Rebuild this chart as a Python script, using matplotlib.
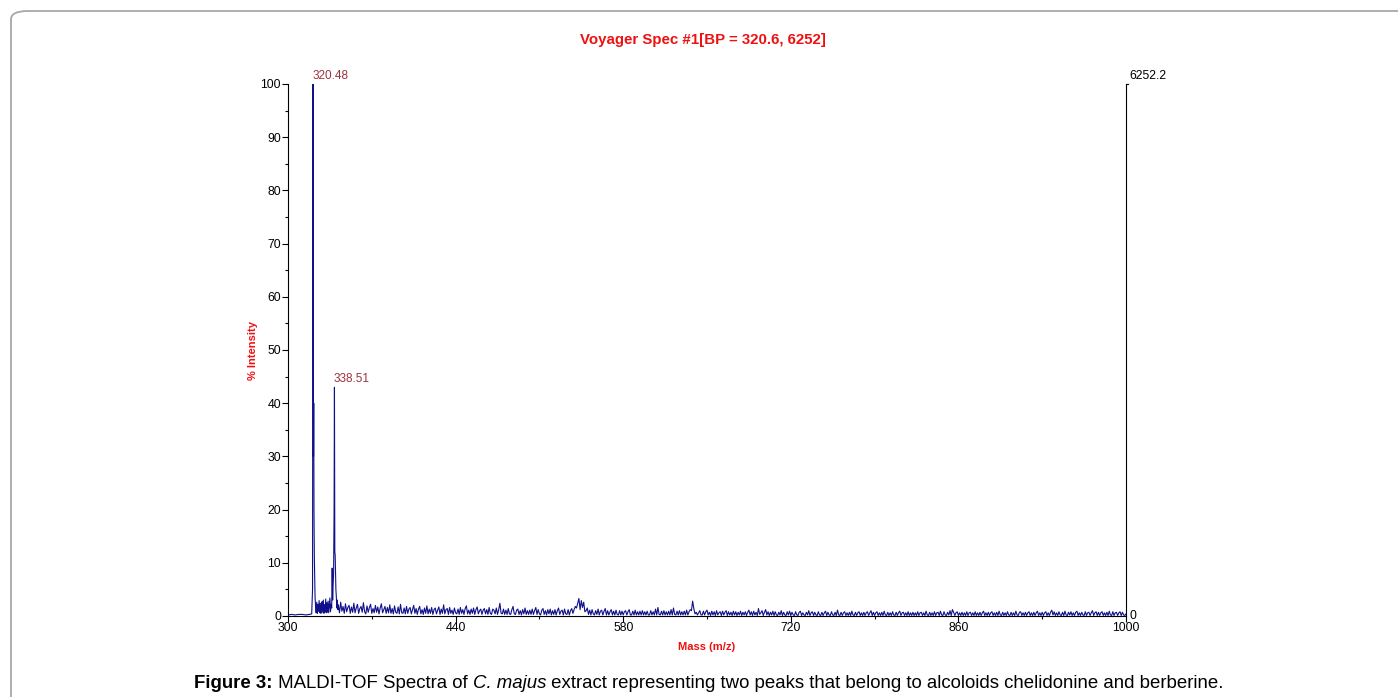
import matplotlib
matplotlib.use("Agg")
import matplotlib.pyplot as plt
from matplotlib.patches import FancyBboxPatch
import numpy as np

plt.rcParams['font.family'] = ['Liberation Sans', 'DejaVu Sans']

# spectrum around the two main peaks (m/z, % intensity)
peak_mass = [300, 303, 306, 309, 312, 315, 318, 319.8, 320.5, 320.9, 321.1, 321.3,
             321.5, 321.7, 322.0, 322.3, 322.6, 323.0, 323.5, 324.0, 324.5, 325.0,
             325.5, 326.0, 326.5, 327.0, 327.5, 328.0, 328.5, 329.0, 329.5, 330.0,
             330.5, 331.0, 331.5, 332.0, 332.5, 333.0, 333.5, 334.0, 334.5, 335.0,
             335.5, 336.0, 336.5, 336.9, 337.3, 337.7, 338.1, 338.5, 338.8, 339.1,
             339.4, 339.7, 340.0, 340.4, 340.8, 341.2, 341.6]
peak_int = [0.2, 0.3, 0.2, 0.3, 0.3, 0.2, 0.3, 0.4, 5.0, 100.0, 61.0, 30.0,
            40.0, 20.0, 11.0, 7.0, 3.5, 2.0, 0.6, 2.6, 0.5, 2.2, 0.9, 2.9, 0.6, 2.4,
            0.5, 1.9, 2.7, 0.7, 3.0, 0.5, 2.1, 0.8, 3.2, 0.6, 2.5, 0.7, 2.8, 0.6,
            2.0, 3.4, 0.8, 2.2, 1.5, 9.0, 3.0, 6.0, 8.0, 20.0, 43.0, 12.0,
            11.5, 8.0, 5.0, 3.5, 1.5, 3.0, 1.2]

# baseline noise, one value per m/z unit from 342 upwards
noise_start = 342
noise = [
    2.1, 0.6, 2.6, 0.9, 1.8, 0.5, 2.3, 0.8, 1.6, 2.0, 0.5, 1.7, 0.7, 2.4, 0.6, 1.5, 2.2, 0.5, 1.4, 1.8,
    0.7, 2.5, 0.8, 0.4, 1.9, 0.7, 1.6, 2.2, 0.5, 1.4, 0.6, 2.0, 0.7, 1.7, 0.4, 1.5, 2.3, 0.6, 1.2, 1.8,
    0.5, 1.6, 0.6, 2.1, 0.5, 1.4, 0.4, 1.9, 0.7, 0.5, 1.7, 0.4, 2.2, 0.6, 0.5, 1.5, 0.4, 1.8, 0.5, 1.3,
    1.6, 0.4, 1.2, 2.0, 0.5, 1.4, 0.3, 1.3, 1.8, 0.4, 1.2, 0.3, 1.5, 0.5, 1.9, 0.4, 1.3, 0.5, 1.6, 0.3,
    1.2, 1.5, 0.4, 1.1, 1.7, 0.3, 1.3, 0.5, 2.1, 0.4, 1.2, 1.4, 0.3, 1.6, 0.5, 1.1, 0.3, 1.5, 0.6, 0.4,
    1.3, 0.3, 1.6, 0.5, 1.2, 0.3, 1.4, 1.9, 0.4, 1.1, 0.3, 1.3, 0.5, 1.5, 0.3, 1.2, 1.7, 0.4, 1.0, 1.3,
    0.3, 1.1, 1.4, 0.4, 1.2, 0.3, 1.6, 0.5, 0.3, 1.3, 1.1, 0.4, 1.5, 0.3, 1.2, 2.4, 0.5, 0.4, 1.3, 0.3,
    1.1, 0.3, 1.4, 0.4, 0.3, 1.2, 1.8, 0.4, 0.3, 1.1, 1.3, 0.3, 1.0, 0.2, 1.2, 0.4, 1.5, 0.3, 1.0, 0.3,
    1.1, 0.3, 1.3, 0.3, 1.0, 1.6, 0.3, 1.2, 0.4, 0.2, 1.1, 1.4, 0.3, 1.0, 0.2, 1.2, 0.4, 1.3, 0.2, 1.0,
    0.3, 1.2, 0.2, 1.0, 1.5, 0.3, 0.9, 1.1, 0.2, 1.3, 0.4, 0.3, 1.2, 0.2, 1.0, 1.4, 0.5, 1.2, 1.8, 1.5,
    2.4, 3.3, 1.2, 2.9, 1.6, 2.6, 0.8, 1.0, 1.5, 0.3, 1.1, 0.2, 1.2, 0.4, 0.2, 1.0, 0.3, 1.3, 0.2, 0.9,
    1.1, 0.2, 0.9, 1.4, 0.2, 1.0, 0.2, 0.8, 1.2, 0.2, 0.9, 0.2, 1.1, 0.3, 0.2, 1.0, 0.2, 0.9, 0.2, 0.8,
    1.0, 0.2, 0.8, 1.2, 0.2, 0.2, 0.9, 0.2, 1.1, 0.2, 0.8, 0.2, 0.9, 0.2, 1.0, 0.2, 0.8, 0.2, 0.9, 0.2,
    0.2, 1.0, 0.2, 0.8, 0.2, 1.3, 0.2, 1.6, 0.3, 0.2, 0.9, 0.2, 1.0, 0.2, 0.8, 0.2, 0.9, 0.2, 1.2, 0.2,
    1.5, 0.3, 0.2, 0.9, 0.2, 1.0, 0.2, 0.8, 0.2, 0.9, 0.2, 1.1, 0.2, 0.8, 1.2, 1.0, 2.8, 1.4, 0.4, 0.7,
    0.2, 0.6, 1.0, 0.2, 0.2, 0.9, 0.2, 0.8, 1.1, 0.2, 0.7, 0.1, 0.9, 0.2, 0.8, 0.1, 1.0, 0.2, 0.6, 0.8,
    0.1, 0.9, 0.2, 0.7, 1.0, 0.1, 0.8, 0.2, 0.7, 0.1, 0.9, 0.2, 0.8, 0.1, 0.7, 0.2, 0.9, 0.1, 0.7, 0.2,
    0.8, 0.1, 0.7, 1.1, 0.2, 0.8, 0.1, 0.9, 0.2, 0.7, 0.1, 1.4, 0.3, 0.6, 1.0, 0.1, 0.7, 1.2, 0.2, 0.8,
    0.1, 0.7, 0.2, 0.9, 0.1, 0.8, 0.2, 0.1, 0.7, 0.2, 1.0, 0.1, 0.7, 0.2, 0.1, 0.8, 0.2, 0.9, 0.1, 0.7,
    0.2, 0.1, 0.8, 0.2, 0.1, 0.7, 0.9, 0.1, 0.6, 0.2, 0.1, 0.7, 0.2, 1.0, 0.1, 0.6, 0.8, 0.1, 0.7, 0.2,
    0.1, 0.8, 0.2, 0.1, 0.7, 0.1, 0.6, 0.9, 0.1, 0.7, 0.2, 0.1, 0.8, 0.2, 0.1, 0.7, 0.1, 1.1, 0.2, 0.1,
    0.7, 0.1, 0.6, 0.8, 0.1, 0.6, 0.1, 0.7, 0.1, 0.9, 0.2, 0.1, 0.7, 0.1, 0.6, 0.8, 0.1, 0.6, 0.1, 0.7,
    0.1, 0.6, 0.8, 0.1, 0.6, 1.0, 0.1, 0.7, 0.1, 0.6, 0.8, 0.1, 0.6, 0.1, 0.7, 0.1, 0.9, 0.2, 0.1, 0.7,
    0.1, 0.6, 0.1, 0.8, 0.2, 0.1, 0.7, 0.1, 0.6, 0.9, 0.1, 0.6, 0.7, 0.1, 0.6, 0.1, 0.8, 0.1, 0.6, 0.1,
    0.7, 0.1, 0.6, 0.1, 0.8, 0.1, 0.6, 0.7, 0.1, 0.6, 0.1, 0.9, 0.2, 0.1, 0.7, 0.1, 0.6, 0.1, 0.8, 0.1,
    0.6, 0.7, 0.1, 0.9, 0.2, 0.1, 0.8, 0.2, 0.1, 0.7, 0.2, 1.0, 0.1, 1.2, 0.7, 0.1, 0.6, 0.8, 0.1, 0.6,
    0.1, 0.7, 0.1, 0.6, 0.1, 0.8, 0.1, 0.6, 0.7, 0.1, 0.6, 0.1, 0.8, 0.1, 0.6, 0.1, 0.7, 0.1, 0.6, 0.9,
    0.1, 0.6, 0.1, 0.7, 0.1, 0.6, 0.8, 0.1, 0.6, 0.1, 0.7, 0.1, 0.9, 0.2, 0.1, 0.7, 0.1, 0.6, 0.1, 0.8,
    0.2, 0.1, 0.7, 0.1, 0.6, 0.1, 0.9, 0.2, 0.1, 0.7, 0.8, 0.1, 0.6, 0.1, 0.7, 0.1, 0.6, 0.8, 0.1, 0.6,
    0.1, 0.7, 0.1, 0.6, 0.9, 0.1, 0.6, 0.1, 0.7, 0.1, 0.6, 0.8, 0.1, 0.6, 0.1, 0.7, 1.1, 0.2, 0.8, 0.1,
    0.6, 0.1, 0.8, 0.2, 0.1, 0.7, 0.1, 0.9, 0.2, 0.1, 0.7, 0.2, 0.8, 0.1, 0.6, 0.1, 0.7, 0.9, 0.1, 0.6,
    0.1, 0.7, 0.2, 0.1, 0.8, 0.1, 0.6, 0.7, 0.1, 0.6, 1.0, 0.1, 0.6, 0.8, 0.1, 0.7, 0.1, 0.6, 0.8, 0.1,
    0.6, 0.1, 0.7, 0.1, 0.9, 0.2, 0.1, 0.8, 0.1, 0.6, 0.7, 0.1, 0.6, 0.8, 0.1, 0.7, 0.2, 0.1, 0.4, 0.3,
]

peak_labels = [(320.9, 100.0, "320.48"), (338.8, 43.0, "338.51")]
bp_intensity = "6252.2"
title = "Voyager Spec #1[BP = 320.6, 6252]"

noise_mass = noise_start + np.arange(len(noise))
mass = np.concatenate([peak_mass, noise_mass])
inten = np.concatenate([peak_int, noise])

W, H = 1398, 697
fig = plt.figure(figsize=(W / 100, H / 100), dpi=100)

# rounded frame of the page
frame = FancyBboxPatch((11 / W, -0.05), 1.2, 1.05 - 11 / H,
                       boxstyle="round,pad=0,rounding_size=0.012",
                       transform=fig.transFigure, fill=False,
                       ec="#a8a8a8", lw=1.3, clip_on=False)
fig.patches.append(frame)

ax = fig.add_axes([288 / W, 81 / H, 838 / W, 532 / H])
ax.plot(mass, inten, color="#10108a", lw=0.8)
ax.set_xlim(300, 1000)
ax.set_ylim(0, 100)

ax.spines['top'].set_visible(False)
for s in ['left', 'right', 'bottom']:
    ax.spines[s].set_linewidth(0.8)
    ax.spines[s].set_color("black")

ax.set_xticks(np.arange(300, 1001, 140))
ax.set_xticks(np.arange(300, 1001, 70), minor=True)
ax.set_yticks(np.arange(0, 101, 10))
ax.set_yticks(np.arange(0, 101, 5), minor=True)
ax.tick_params(axis='both', which='major', length=4, width=0.8, labelsize=8.8, pad=1)
ax.tick_params(axis='both', which='minor', length=2.5, width=0.8)
ax.tick_params(axis='x', pad=0)

ax.set_xlabel("Mass (m/z)", color="#ee1111", fontsize=8, fontweight="bold", labelpad=6)
ax.set_ylabel("% Intensity", color="#ee1111", fontsize=8, fontweight="bold", labelpad=2)

# right-hand absolute intensity scale
ax.text(1003, 101.5, bp_intensity, fontsize=8.8, ha="left", va="center")
ax.text(1003, 0, "0", fontsize=8.8, ha="left", va="center")
ax.plot([1000, 1002], [100, 100], color="black", lw=0.8, clip_on=False)

for m, v, lab in peak_labels:
    ax.text(m - 0.4, v + 0.4, lab, color="#9a3340", fontsize=8.5, ha="left", va="bottom")

fig.text(703 / W, 1 - 40 / H, title, color="#ee1111", fontsize=10.8,
         fontweight="bold", ha="center", va="center")

# caption with mixed styles
pieces = [("Figure 3:", "bold", "normal"),
          (" MALDI-TOF Spectra of ", "normal", "normal"),
          ("C. majus", "normal", "italic"),
          (" extract representing two peaks that belong to alcoloids chelidonine and berberine.",
           "normal", "normal")]
renderer = fig.canvas.get_renderer()
texts = []
for txt, wt, st in pieces:
    t = fig.text(0, 1 - 688 / H, txt, fontsize=13.4, fontweight=wt, fontstyle=st,
                 ha="left", va="baseline")
    texts.append(t)
widths = [t.get_window_extent(renderer).width for t in texts]
x = 709 - sum(widths) / 2
for t, w in zip(texts, widths):
    t.set_x(x / W)
    x += w

fig.savefig("out.png", dpi=100)
